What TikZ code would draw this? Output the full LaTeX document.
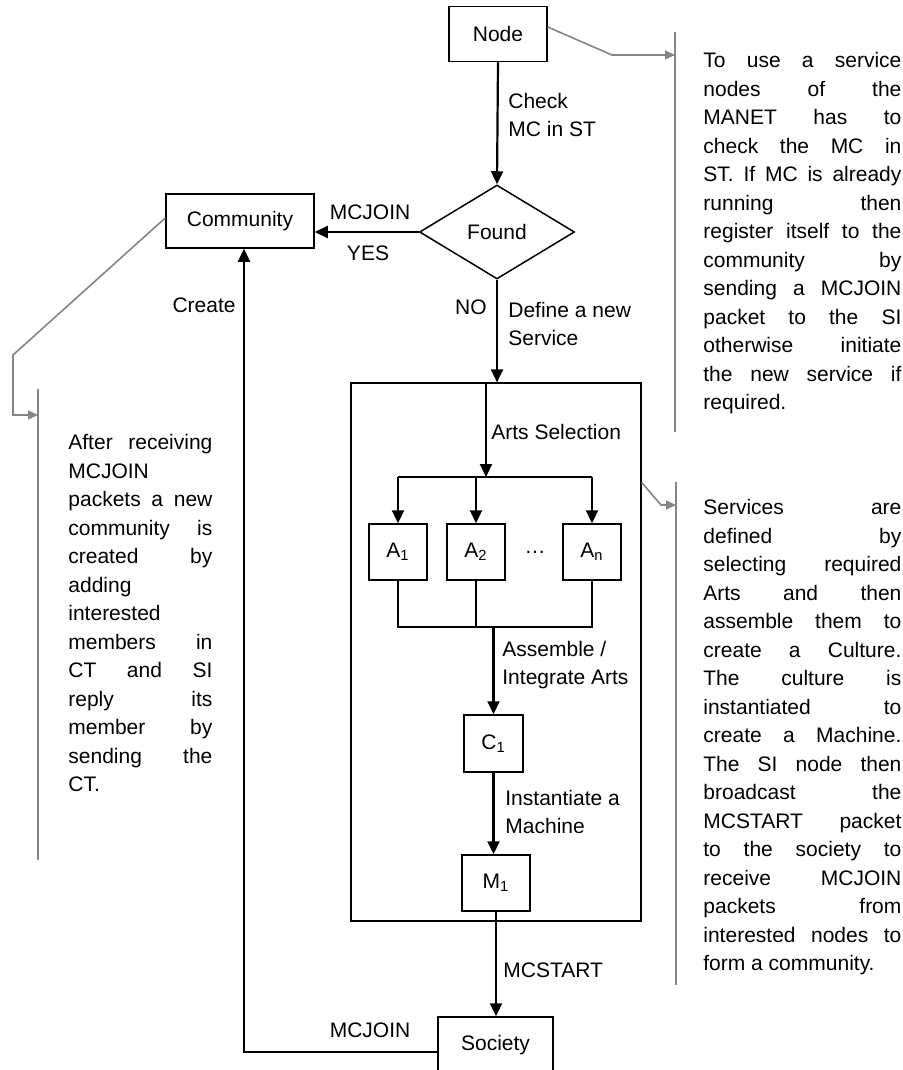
\documentclass[tikz,border=0pt]{standalone}
\usepackage{fontspec}
\setmainfont{Liberation Sans}
\usetikzlibrary{arrows.meta, calc, shapes.geometric}
\definecolor{ink}{HTML}{000000}
\definecolor{notegray}{HTML}{858585}
\setlength{\parindent}{0pt}
\newlength{\notew}
\newcommand{\jl}[1]{\makebox[\notew][s]{\spaceskip=0pt\xspaceskip=0pt\relax #1}\\}
\newcommand{\lj}[1]{\makebox[\notew][l]{#1}\\}

\begin{document}
\begin{tikzpicture}[
    x=0.5pt, y=-0.5pt,
    >={Triangle[length=6.5pt, width=6pt]},
    every node/.style={font=\fontsize{10.5}{14.25}\selectfont, inner sep=0pt},
    box/.style={draw=ink, line width=0.75pt, minimum height=28pt},
    flow/.style={->, draw=ink, line width=1.1pt},
    bus/.style={draw=ink, line width=1.1pt},
    joinline/.style={draw=ink, line width=0.6pt},
    note/.style={draw=notegray, line width=0.8pt},
    notetip/.style={note, -{Triangle[length=5pt, width=4.5pt]}},
    notetext/.style={anchor=north west, text width=\notew, align=justify},
    lbl/.style={anchor=west, align=left},
  ]

  \useasboundingbox (0,0) rectangle (903,1070);
  \clip (0,0) rectangle (903,1070);

  % === Main flow ===
  \node[box, minimum width=49pt, minimum height=27.5pt] (start) at (498,34) {Node};
  \node[diamond, draw=ink, line width=0.75pt, minimum width=77.5pt, minimum height=47pt]
    (found) at (497,232) {Found};
  \node[box, minimum width=74pt, minimum height=27pt] (comm) at (240,221) {Community};

  % service definition block
  \node[draw=ink, line width=0.6pt, minimum width=145pt, minimum height=269pt] (svc) at (496,652) {};
  \node[box, minimum width=29pt] (a1) at (398,552) {A\textsubscript{1}};
  \node[box, minimum width=29pt] (a2) at (476,552) {A\textsubscript{2}};
  \node (dots) at (535,552) {\dots};
  \node[box, minimum width=29pt] (an) at (592,552) {A\textsubscript{n}};
  \node[box, minimum width=29.5pt, minimum height=28.5pt] (c1) at (493.5,743.5) {C\textsubscript{1}};
  \node[box, minimum width=34pt] (m1) at (496,883) {M\textsubscript{1}};

  \node[box, minimum width=57.5pt] (soc) at (495.5,1045) {Society};

  \coordinate (split) at (486,477);
  \coordinate (merge) at (493.5,627);
  \coordinate (ret) at (244,1052);

  \draw[flow] (start.south) -- (found.north);
  \draw[flow] (found.west) -- (found.west -| comm.east);
  \draw[flow] (found.south) -- (found.south |- svc.north);
  \draw[flow] (split |- svc.north) -- (split);
  \draw[bus] (a1.north |- split) -- (an.north |- split);
  \draw[flow] (a1.north |- split) -- (a1.north);
  \draw[flow] (a2.north |- split) -- (a2.north);
  \draw[flow] (an.north |- split) -- (an.north);
  \draw[joinline] (a1.south) -- (a1.south |- merge) -- (an.south |- merge) -- (an.south);
  \draw[joinline] (a2.south) -- (a2.south |- merge);
  \draw[flow] (merge) -- (c1.north);
  \draw[flow] (c1.south) -- (c1.south |- m1.north);
  \draw[flow] (m1.south) -- (m1.south |- soc.north);
  \draw[flow] (ret -| soc.west) -- (ret) -- (ret |- comm.south);

  % === Flow labels ===
  \node[lbl] (chk) at (508,115) {Check\\MC in ST};
  \node (yjoin) at (370,212) {MCJOIN};
  \node (yes) at (368,253) {YES};
  \node[anchor=east] (no) at (487,307) {NO};
  \node[lbl] (def) at (508,324) {Define a new\\Service};
  \node[anchor=east] (create) at (236,305) {Create};
  \node[lbl] (arts) at (491,432) {Arts Selection};
  \node[lbl] (asm) at (502,665) {Assemble /\\Integrate Arts};
  \node[lbl] (inst) at (505,812) {Instantiate a\\Machine};
  \node[lbl] (mcs) at (503,970) {MCSTART};
  \node (rjoin) at (370,1030) {MCJOIN};

  % === Side notes ===
  \setlength{\notew}{99pt}
  \node[notetext] (note1) at (703,52) {%
    \jl{To use a service}
    \jl{nodes of the}
    \jl{MANET has to}
    \jl{check the MC in}
    \jl{ST. If MC is already}
    \jl{running then}
    \jl{register itself to the}
    \jl{community by}
    \jl{sending a MCJOIN}
    \jl{packet to the SI}
    \jl{otherwise initiate}
    \jl{the new service if}
    required.};
  \node[notetext] (note2) at (703,499) {%
    \jl{Services are}
    \jl{defined by}
    \jl{selecting required}
    \jl{Arts and then}
    \jl{assemble them to}
    \jl{create a Culture.}
    \jl{The culture is}
    \jl{instantiated to}
    \jl{create a Machine.}
    \jl{The SI node then}
    \jl{broadcast the}
    \jl{MCSTART packet}
    \jl{to the society to}
    \jl{receive MCJOIN}
    \jl{packets from}
    \jl{interested nodes to}
    form a community.};
  \setlength{\notew}{72pt}
  \node[notetext] (note3) at (68,434) {%
    \jl{After receiving}
    \lj{MCJOIN}
    \jl{packets a new}
    \jl{community is}
    \jl{created by}
    \lj{adding}
    \lj{interested}
    \jl{members in}
    \jl{CT and SI}
    \jl{reply its}
    \jl{member by}
    \jl{sending the}
    CT.};

  % note bars and pointers
  \coordinate (bar1top) at (675,32);
  \coordinate (bar1bot) at (675,432);
  \coordinate (bend1) at (612,55);
  \draw[note] (bar1top) -- (bar1bot);
  \draw[notetip] ($(start.east)+(0,-7)$) -- (bend1) -- (bend1 -| bar1top);

  \coordinate (bar2top) at (676,482);
  \coordinate (bar2bot) at (676,985);
  \coordinate (bend2) at (661,505);
  \draw[note] (bar2top) -- (bar2bot);
  \draw[notetip] ($(svc.north east)+(0,100)$) -- (bend2) -- (bend2 -| bar2top);

  \coordinate (bar3top) at (38,389);
  \coordinate (bar3bot) at (38,860);
  \coordinate (bend3) at (13,355);
  \coordinate (bend3b) at (13,415);
  \draw[note] (bar3top) -- (bar3bot);
  \draw[notetip] ($(comm.west)+(0,-3)$) -- (bend3) -- (bend3b) -- (bend3b -| bar3top);

\end{tikzpicture}
\end{document}
